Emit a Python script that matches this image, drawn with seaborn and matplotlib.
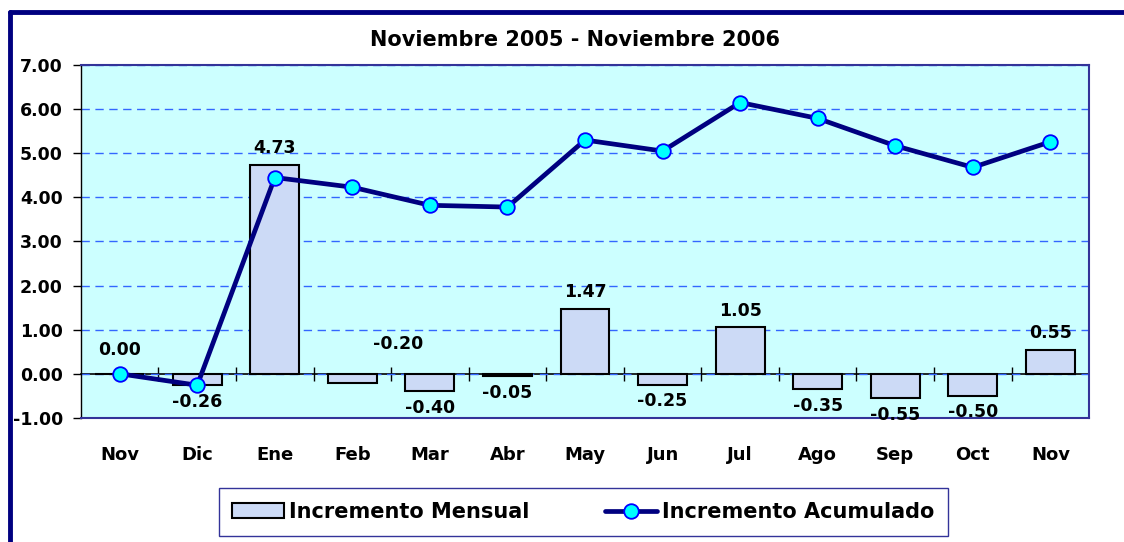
import matplotlib
matplotlib.use("Agg")
import pandas as pd
import matplotlib.pyplot as plt
import seaborn as sns
from matplotlib.lines import Line2D
from matplotlib.patches import Patch
from matplotlib.ticker import FormatStrFormatter

# Data
meses = ["Nov", "Dic", "Ene", "Feb", "Mar", "Abr", "May", "Jun", "Jul", "Ago", "Sep", "Oct", "Nov"]
mensual = [0.00, -0.26, 4.73, -0.20, -0.40, -0.05, 1.47, -0.25, 1.05, -0.35, -0.55, -0.50, 0.55]
acumulado = [0.00, -0.26, 4.45, 4.23, 3.82, 3.78, 5.30, 5.05, 6.15, 5.79, 5.17, 4.68, 5.26]
titulo = "Noviembre 2005 - Noviembre 2006"
leyenda = ["Incremento Mensual", "Incremento Acumulado"]

df = pd.DataFrame({"pos": range(len(meses)), "mensual": mensual, "acumulado": acumulado})

sns.set_style("white")
plt.rcParams["font.family"] = ["DejaVu Sans"]
plt.rcParams["font.weight"] = "bold"
plt.rcParams["text.color"] = "black"
plt.rcParams["xtick.labelcolor"] = "black"
plt.rcParams["ytick.labelcolor"] = "black"

NAVY = "#000080"
BAR = "#CCDAF6"

fig = plt.figure(figsize=(11.24, 5.42), dpi=100)
ax = fig.add_axes([0.072, 0.229, 0.897, 0.651])
ax.set_facecolor("#CCFFFF")
ax.set_axisbelow(True)

sns.barplot(data=df, x="pos", y="mensual", width=0.63, color=BAR, saturation=1,
            edgecolor="black", linewidth=1.5, ax=ax, zorder=2)
sns.lineplot(data=df, x="pos", y="acumulado", color=NAVY, linewidth=3.4, marker="o",
             markersize=10.5, markerfacecolor="#00FFFF", markeredgecolor="#0000FF",
             markeredgewidth=1.3, ax=ax, zorder=4, legend=False)

ax.set_xlim(-0.5, len(meses) - 0.5)
ax.set_ylim(-1, 7)
ax.set_yticks(range(-1, 8))
ax.yaxis.set_major_formatter(FormatStrFormatter("%.2f"))
ax.yaxis.grid(True, linestyle=(0, (6, 4)), color="#3366FF", linewidth=1)
ax.set_xticks(range(len(meses)))
ax.set_xticklabels(meses)
ax.set_xlabel("")
ax.set_ylabel("")
ax.tick_params(axis="x", length=0, pad=20, labelsize=13, labelcolor="black")
ax.tick_params(axis="y", left=True, direction="out", length=6, width=1,
               color="black", pad=7, labelsize=12.5, labelcolor="black")
for s in ["top", "right", "bottom"]:
    ax.spines[s].set_color("#333399")
    ax.spines[s].set_linewidth(1.5)
ax.spines["left"].set_color("black")
ax.spines["left"].set_linewidth(1)

# zero line with category separators
zero = ax.secondary_xaxis(1 / 8)
zero.set_xticks([i + 0.5 for i in range(len(meses) - 1)])
zero.tick_params(direction="inout", length=10, width=1, color="black", labelbottom=False)
zero.spines["bottom"].set_color("black")
zero.spines["bottom"].set_linewidth(1.2)

# value labels
for i, v in enumerate(mensual):
    if meses[i] == "Feb":
        off = (33, 28)
    elif v == 0:
        off = (0, 17)
    elif v > 0:
        off = (0, 12)
    else:
        off = (0, -12)
    y = max(v, -0.72) if v < 0 else v
    ax.annotate(f"{v:.2f}", (i, y), xytext=off, textcoords="offset points",
                ha="center", va="center", fontsize=12.5, fontweight="bold",
                color="black", zorder=5)

fig.text(0.512, 0.926, titulo, ha="center", va="center", fontsize=15,
         fontweight="bold", color="black")

handles = [
    Patch(facecolor=BAR, edgecolor="black", linewidth=1.5),
    Line2D([], [], color=NAVY, linewidth=3.4, marker="o", markersize=10.5,
           markerfacecolor="#00FFFF", markeredgecolor="#0000FF", markeredgewidth=1.3),
]
leg = fig.legend(handles, leyenda, loc="center", bbox_to_anchor=(0.519, 0.0554), ncol=2,
                 frameon=True, fancybox=False, edgecolor="#333399", framealpha=1,
                 handlelength=2.5, handletextpad=0.25, columnspacing=3.6, borderpad=0.65,
                 borderaxespad=0, prop={"family": "DejaVu Sans", "weight": "bold", "size": 15})
leg.get_frame().set_linewidth(1)

# outer frame
fig.add_artist(Line2D([10 / 1124, 10 / 1124], [0, 1 - 12 / 542], transform=fig.transFigure,
                      color=NAVY, linewidth=3.5))
fig.add_artist(Line2D([10 / 1124, 1], [1 - 12 / 542, 1 - 12 / 542], transform=fig.transFigure,
                      color=NAVY, linewidth=3.5))

fig.savefig("out.png", dpi=100)
